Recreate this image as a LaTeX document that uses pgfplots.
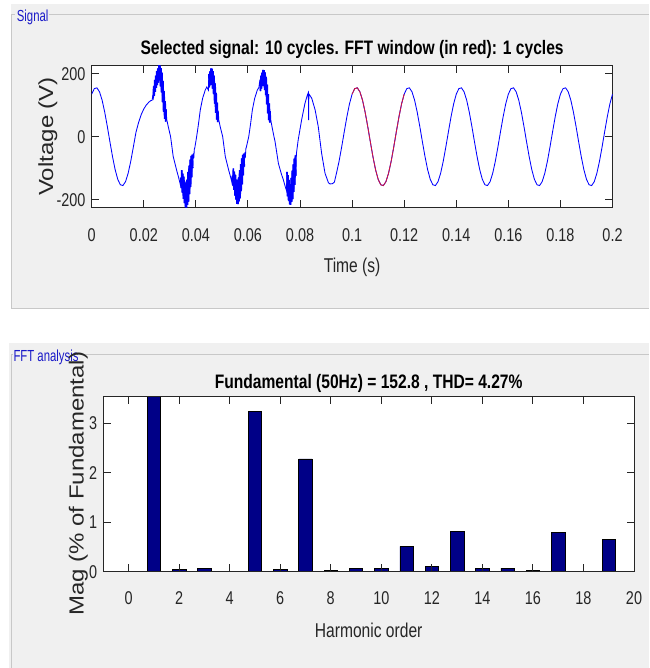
\documentclass[border=0pt]{standalone}
\usepackage{pgfplots}
\pgfplotsset{compat=1.18}
\usepackage{graphicx}
\usepackage{fontspec}
\setmainfont{Liberation Sans}
\newfontfamily\sq[FakeStretch=0.78]{Liberation Sans}
\newfontfamily\sqp[FakeStretch=0.71]{Liberation Sans}
\newfontfamily\sqt[FakeStretch=0.8]{Liberation Sans}
\definecolor{panel}{RGB}{240,240,240}
\definecolor{pline}{RGB}{200,200,200}
\definecolor{ptext}{RGB}{25,25,200}
\definecolor{axc}{RGB}{38,38,38}
\definecolor{sig}{RGB}{0,0,255}
\definecolor{win}{RGB}{210,20,60}
\definecolor{barc}{RGB}{0,0,135}
\pgfplotsset{
  mat/.style={
    scale only axis,
    axis background/.style={fill=white},
    axis line style={axc, line width=1pt},
    tick align=inside,
    tick style={axc, line width=1pt},
    major tick length=7.5pt,
    tick label style={font=\sq\fontsize{18.5}{18.5}\selectfont, text=axc},
    xticklabel style={anchor=base, inner sep=0pt},
    yticklabel style={anchor=east, inner sep=0pt, xshift=-6pt},
    every axis title/.style={at={(axis description cs:0.5,1)}, anchor=base, font=\sqt\bfseries\fontsize{19.5}{20}\selectfont, text=black},
    every axis x label/.style={at={(axis description cs:0.5,0)}, anchor=base, font=\sq\fontsize{20}{20}\selectfont, text=axc},
    burst/.style={sig, line width=1.6pt},
  }
}
\begin{document}
\begin{tikzpicture}
\useasboundingbox (0,0) rectangle (649pt,-668pt);
\fill[white] (0,0) rectangle (649pt,-668pt);
\fill[panel] (11pt,-4pt) rectangle (649pt,-308.5pt);
\fill[panel] (9pt,-343pt) rectangle (649pt,-668pt);
\draw[pline, line width=1pt] (15pt,-14.3pt) -- (11.7pt,-14.3pt) -- (11.7pt,-308pt) -- (649pt,-308pt);
\draw[pline, line width=1pt] (49pt,-14.3pt) -- (649pt,-14.3pt);
\draw[pline, line width=1pt] (13pt,-354.3pt) -- (11.7pt,-354.3pt) -- (11.7pt,-668pt);
\draw[pline, line width=1pt] (80pt,-354.3pt) -- (649pt,-354.3pt);
\node[anchor=base west, inner sep=0pt, text=ptext, font=\sqp\fontsize{16}{16}\selectfont] at (16.7pt,-21.5pt) {Signal};
\node[anchor=base west, inner sep=0pt, text=ptext, font=\sqp\fontsize{16}{16}\selectfont] at (13.3pt,-361pt) {FFT analysis};

\begin{axis}[mat,
  at={(91.7pt,-207.7pt)}, anchor=south west,
  width=520.8pt, height=142.7pt,
  xmin=0, xmax=0.2, ymin=-225.4, ymax=227.6,
  xtick={0,0.02,0.04,0.06,0.08,0.1,0.12,0.14,0.16,0.18,0.2},
  xticklabels={0,0.02,0.04,0.06,0.08,0.1,0.12,0.14,0.16,0.18,0.2},
  ytick={-200,0,200}, yticklabels={-200,0,200},
  xticklabel style={yshift=-33.6pt},
  title style={yshift=10.3pt},
  title={Selected signal: 10 cycles. FFT window (in red): 1 cycles},
  xlabel={Time (s)}, xlabel style={yshift=-64.3pt},
  ylabel={\scalebox{1}[0.85]{Voltage (V)}},
  every axis y label/.style={at={(axis description cs:-0.0743,0.5)}, rotate=90, anchor=base, font=\fontsize{24}{24}\selectfont, text=axc},
]
\addplot[sig, line width=0.85pt] table {
t v
0.000 135.1
0.001 152.6
0.002 155.1
0.003 142.5
0.004 115.9
0.005 78.0
0.006 32.4
0.007 -16.3
0.008 -63.4
0.009 -104.4
0.010 -135.1
0.011 -152.6
0.012 -155.1
0.013 -142.5
0.014 -115.9
0.015 -78.0
0.016 -32.4
0.017 14
0.018 45
0.019 70
0.020 88
0.021 101
0.022 110
0.0226 114
0.0232 116
0.0234 126
0.0236 122
0.0238 160
0.0240 130
0.0242 180
0.0244 142
0.0246 194
0.0248 155
0.0250 208
0.0252 164
0.0254 217
0.0256 172
0.0258 227
0.0260 179
0.0262 226
0.0264 160
0.0266 218
0.0268 141
0.0270 203
0.0272 110
0.0274 177
0.0276 79
0.0278 145
0.0280 57
0.0282 113
0.0284 48
0.0286 87
0.0288 55
0.0294 32
0.0303 0
0.0313 -63
0.0326 -106
0.0334 -130
0.0340 -151
0.0342 -130
0.0344 -163
0.0346 -106
0.0348 -178
0.0350 -117
0.0352 -197
0.0354 -127
0.0356 -211
0.0358 -143
0.0360 -224
0.0362 -159
0.0364 -225
0.0366 -136
0.0368 -216
0.0370 -112
0.0372 -206
0.0374 -92
0.0376 -182
0.0378 -73
0.0380 -159
0.0382 -61
0.0384 -129
0.0386 -57
0.0388 -100
0.0390 -53
0.0392 -69
0.0394 -40
0.0396 -35
0.0403 0
0.0410 40
0.0417 85
0.0426 122
0.0436 148
0.0442 158
0.0448 148
0.0450 199
0.0452 157
0.0454 207
0.0456 164
0.0458 217
0.0460 171
0.0462 216
0.0464 153
0.0466 208
0.0468 135
0.0470 194
0.0472 105
0.0474 169
0.0476 76
0.0478 139
0.0480 54
0.0482 108
0.0484 46
0.0486 83
0.0488 53
0.0494 30
0.0503 0
0.0513 -63
0.0526 -106
0.0534 -130
0.0538 -143
0.0540 -124
0.0542 -155
0.0544 -101
0.0546 -169
0.0548 -111
0.0550 -187
0.0552 -121
0.0554 -200
0.0556 -136
0.0558 -213
0.0560 -151
0.0562 -214
0.0564 -129
0.0566 -205
0.0568 -106
0.0570 -196
0.0572 -87
0.0574 -173
0.0576 -69
0.0578 -151
0.0580 -58
0.0582 -123
0.0584 -54
0.0586 -95
0.0588 -50
0.0590 -66
0.0592 -38
0.0594 -33
0.0603 0
0.0610 40
0.0617 85
0.0626 122
0.0636 148
0.0642 156
0.0646 181
0.0648 145
0.0650 194
0.0652 153
0.0654 203
0.0656 161
0.0658 212
0.0660 167
0.0662 211
0.0664 149
0.0666 204
0.0668 132
0.0670 190
0.0672 103
0.0674 165
0.0676 74
0.0678 135
0.0680 53
0.0682 106
0.0684 45
0.0686 81
0.0688 51
0.0694 25
0.0700 0
0.0704 -15
0.0717 -85
0.0729 -120
0.0736 -137
0.0742 -155
0.0748 -171
0.0750 -112
0.0752 -189
0.0754 -122
0.0756 -203
0.0758 -137
0.0760 -215
0.0762 -153
0.0764 -216
0.0766 -131
0.0768 -207
0.0770 -108
0.0772 -198
0.0774 -88
0.0776 -175
0.0778 -70
0.0780 -153
0.0782 -59
0.0784 -124
0.0786 -55
0.0789 -35
0.0793 -10
0.0806 53
0.0819 106
0.0828 132
0.0832 140
0.0833 53
0.0834 136
0.0845 122
0.0858 85
0.0870 32
0.0883 -53
0.0896 -116
0.0909 -146
0.0915 -150
0.0925 -149
0.0932 -144
0.094 -115.9
0.095 -78.0
0.096 -32.4
0.097 16.3
0.098 63.4
0.099 104.4
0.100 135.1
0.101 152.6
0.102 155.1
0.103 142.5
0.104 115.9
0.105 78.0
0.106 32.4
0.107 -16.3
0.108 -63.4
0.109 -104.4
0.110 -135.1
0.111 -152.6
0.112 -155.1
0.113 -142.5
0.114 -115.9
0.115 -78.0
0.116 -32.4
0.117 16.3
0.118 63.4
0.119 104.4
0.120 135.1
0.121 152.6
0.122 155.1
0.123 142.5
0.124 115.9
0.125 78.0
0.126 32.4
0.127 -16.3
0.128 -63.4
0.129 -104.4
0.130 -135.1
0.131 -152.6
0.132 -155.1
0.133 -142.5
0.134 -115.9
0.135 -78.0
0.136 -32.4
0.137 16.3
0.138 63.4
0.139 104.4
0.140 135.1
0.141 152.6
0.142 155.1
0.143 142.5
0.144 115.9
0.145 78.0
0.146 32.4
0.147 -16.3
0.148 -63.4
0.149 -104.4
0.150 -135.1
0.151 -152.6
0.152 -155.1
0.153 -142.5
0.154 -115.9
0.155 -78.0
0.156 -32.4
0.157 16.3
0.158 63.4
0.159 104.4
0.160 135.1
0.161 152.6
0.162 155.1
0.163 142.5
0.164 115.9
0.165 78.0
0.166 32.4
0.167 -16.3
0.168 -63.4
0.169 -104.4
0.170 -135.1
0.171 -152.6
0.172 -155.1
0.173 -142.5
0.174 -115.9
0.175 -78.0
0.176 -32.4
0.177 16.3
0.178 63.4
0.179 104.4
0.180 135.1
0.181 152.6
0.182 155.1
0.183 142.5
0.184 115.9
0.185 78.0
0.186 32.4
0.187 -16.3
0.188 -63.4
0.189 -104.4
0.190 -135.1
0.191 -152.6
0.192 -155.1
0.193 -142.5
0.194 -115.9
0.195 -78.0
0.196 -32.4
0.197 16.3
0.198 63.4
0.199 104.4
0.200 135.1
};
% denser bursts drawn thicker
\addplot[burst] table {
t v
0.0236 122
0.0238 160
0.0240 130
0.0242 180
0.0244 142
0.0246 194
0.0248 155
0.0250 208
0.0252 164
0.0254 217
0.0256 172
0.0258 227
0.0260 179
0.0262 226
0.0264 160
0.0266 218
0.0268 141
0.0270 203
0.0272 110
0.0274 177
0.0276 79
0.0278 145
0.0280 57
0.0282 113
0.0284 48
0.0286 87
};
\addplot[burst] table {
t v
0.0342 -130
0.0344 -163
0.0346 -106
0.0348 -178
0.0350 -117
0.0352 -197
0.0354 -127
0.0356 -211
0.0358 -143
0.0360 -224
0.0362 -159
0.0364 -225
0.0366 -136
0.0368 -216
0.0370 -112
0.0372 -206
0.0374 -92
0.0376 -182
0.0378 -73
0.0380 -159
0.0382 -61
0.0384 -129
0.0386 -57
0.0388 -100
};
\addplot[burst] table {
t v
0.0450 199
0.0452 157
0.0454 207
0.0456 164
0.0458 217
0.0460 171
0.0462 216
0.0464 153
0.0466 208
0.0468 135
0.0470 194
0.0472 105
0.0474 169
0.0476 76
0.0478 139
0.0480 54
0.0482 108
0.0484 46
};
\addplot[burst] table {
t v
0.0540 -124
0.0542 -155
0.0544 -101
0.0546 -169
0.0548 -111
0.0550 -187
0.0552 -121
0.0554 -200
0.0556 -136
0.0558 -213
0.0560 -151
0.0562 -214
0.0564 -129
0.0566 -205
0.0568 -106
0.0570 -196
0.0572 -87
0.0574 -173
0.0576 -69
0.0578 -151
0.0580 -58
0.0582 -123
0.0584 -54
0.0586 -95
};
\addplot[burst] table {
t v
0.0648 145
0.0650 194
0.0652 153
0.0654 203
0.0656 161
0.0658 212
0.0660 167
0.0662 211
0.0664 149
0.0666 204
0.0668 132
0.0670 190
0.0672 103
0.0674 165
0.0676 74
0.0678 135
0.0680 53
0.0682 106
0.0684 45
};
\addplot[burst] table {
t v
0.0750 -112
0.0752 -189
0.0754 -122
0.0756 -203
0.0758 -137
0.0760 -215
0.0762 -153
0.0764 -216
0.0766 -131
0.0768 -207
0.0770 -108
0.0772 -198
0.0774 -88
0.0776 -175
0.0778 -70
0.0780 -153
0.0782 -59
0.0784 -124
};
\addplot[win, line width=0.85pt] table {
t v
0.100 135.1
0.101 152.6
0.102 155.1
0.103 142.5
0.104 115.9
0.105 78.0
0.106 32.4
0.107 -16.3
0.108 -63.4
0.109 -104.4
0.110 -135.1
0.111 -152.6
0.112 -155.1
0.113 -142.5
0.114 -115.9
0.115 -78.0
0.116 -32.4
0.117 16.3
0.118 63.4
0.119 104.4
0.120 135.1
};
\end{axis}

\begin{axis}[mat,
  at={(103.3pt,-571.7pt)}, anchor=south west,
  width=530.7pt, height=175.7pt,
  xmin=-1, xmax=20, ymin=0, ymax=3.55,
  axis on top,
  xtick={0,2,4,6,8,10,12,14,16,18,20},
  xticklabels={0,2,4,6,8,10,12,14,16,18,20},
  ytick={0,1,2,3}, yticklabels={0,1,2,3},
  xticklabel style={yshift=-32.3pt},
  title style={yshift=7.7pt},
  title={Fundamental (50Hz) = 152.8 , THD= 4.27\%},
  xlabel={Harmonic order}, xlabel style={yshift=-66pt},
  ylabel={\scalebox{1}[0.85]{Mag (\% of Fundamental)}},
  every axis y label/.style={at={(axis description cs:-0.0373,0.5)}, rotate=90, anchor=base, font=\fontsize{24}{24}\selectfont, text=axc},
]
\addplot[ybar, bar width=0.53, fill=barc, draw=black, line width=0.6pt] coordinates {
(0,0.01) (1,100) (2,0.04) (3,0.06) (4,0.01) (5,3.24) (6,0.04) (7,2.28) (8,0.03) (9,0.07)
(10,0.07) (11,0.51) (12,0.11) (13,0.81) (14,0.07) (15,0.07) (16,0.02) (17,0.79) (18,0.01) (19,0.65)
};
\end{axis}
\end{tikzpicture}
\end{document}
